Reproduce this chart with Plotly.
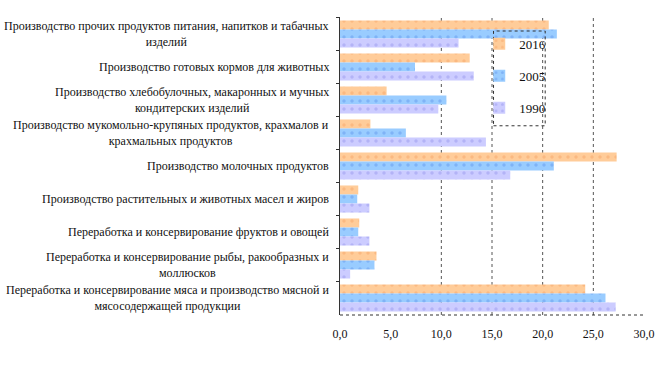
import plotly.graph_objects as go

categories = [
    "Производство прочих продуктов питания, напитков и табачных<br>изделий",
    "Производство готовых кормов для животных",
    "Производство хлебобулочных, макаронных и мучных<br>кондитерских изделий",
    "Производство мукомольно-крупяных продуктов, крахмалов и<br>крахмальных продуктов",
    "Производство молочных продуктов",
    "Производство растительных и животных масел и жиров",
    "Переработка и консервирование фруктов и овощей",
    "Переработка и консервирование рыбы, ракообразных и<br>моллюсков",
    "Переработка и консервирование мяса и производство мясной и<br>мясосодержащей продукции",
]
cat_ids = [f"c{i}" for i in range(len(categories))]

v2016 = [20.6, 12.8, 4.6, 3.0, 27.3, 1.8, 1.9, 3.6, 24.2]
v2005 = [21.4, 7.4, 10.5, 6.5, 21.1, 1.7, 1.8, 3.4, 26.2]
v1990 = [11.7, 13.2, 9.7, 14.4, 16.8, 2.9, 2.9, 1.0, 27.2]

series = [("2016", v2016, "#FFCC99", "#F5A66A"),
          ("2005", v2005, "#99CCFF", "#6699EE"),
          ("1990", v1990, "#CCCCFF", "#9999EE")]

grid_vals = [10, 15, 20, 25]
x_ticks = [0, 5, 10, 15, 20, 25, 30]

FONT = "Liberation Serif, Times New Roman, serif"

fig = go.Figure()
for i, (name, vals, col, dot) in enumerate(series):
    fig.add_trace(go.Bar(
        y=cat_ids, x=vals, name=name, orientation="h",
        marker=dict(color=col, line=dict(width=0),
                    pattern=dict(shape=".", fgcolor=dot, bgcolor=col, size=8, solidity=0.15)),
        legendgroup=name,
    ))

shapes = []
for g in grid_vals:
    shapes.append(dict(type="line", xref="x", yref="paper", x0=g, x1=g, y0=0, y1=1,
                       line=dict(color="#555555", width=1, dash="dot"), layer="below"))
shapes.append(dict(type="line", xref="paper", yref="paper", x0=0, x1=1, y0=0, y1=0,
                   line=dict(color="#333333", width=1, dash="dot")))
# legend box
shapes.append(dict(type="rect", xref="paper", yref="paper", x0=0.505, x1=0.675, y0=0.635, y1=0.953,
                   line=dict(color="#333333", width=1, dash="dot")))

annotations = []
for cid, lab in zip(cat_ids, categories):
    annotations.append(dict(xref="paper", yref="y", x=-0.03, y=cid, text=lab, showarrow=False,
                            xanchor="right", yanchor="middle", align="center",
                            font=dict(family=FONT, size=12, color="#111111")))

fig.update_layout(
    width=667, height=384,
    margin=dict(l=340, r=20, t=17, b=69),
    paper_bgcolor="white", plot_bgcolor="white",
    barmode="group", bargap=0.18, bargroupgap=0,
    separators=", ",
    font=dict(family=FONT, size=12, color="#111111"),
    xaxis=dict(range=[0, 30], tickvals=x_ticks, tickformat=".1f", showgrid=False,
               zeroline=False, showline=False, ticks="", ticklabelstandoff=10,
               tickfont=dict(size=12, family=FONT)),
    yaxis=dict(autorange="reversed", showticklabels=False, showgrid=False, showline=True,
               linecolor="#333333", linewidth=1, ticks="outside", tickson="boundaries",
               ticklen=3, tickcolor="#333333"),
    legend=dict(x=0.458, y=0.96, xanchor="left", yanchor="top", bgcolor="rgba(0,0,0,0)",
                font=dict(family=FONT, size=13), tracegroupgap=12, borderwidth=0),
    shapes=shapes, annotations=annotations,
    showlegend=True,
)

fig.write_html("out.html", config={"displayModeBar": False},
               post_script="document.body.style.margin='0';document.body.style.overflow='hidden';")
